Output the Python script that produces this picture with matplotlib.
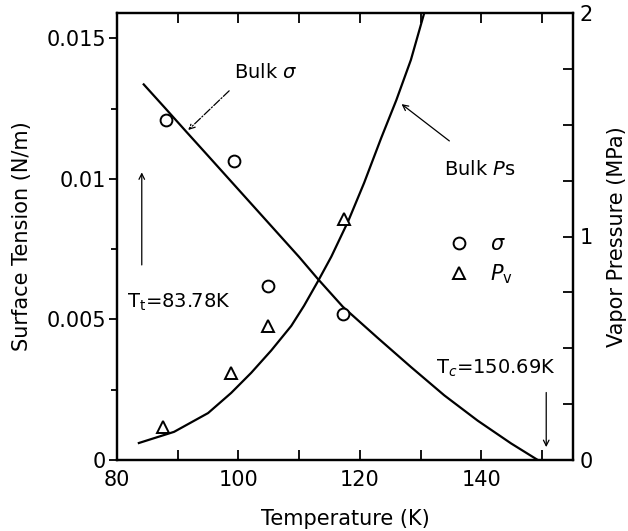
import matplotlib
matplotlib.use("Agg")
import matplotlib.pyplot as plt
from matplotlib.lines import Line2D
from matplotlib.ticker import MultipleLocator

plt.rcParams["font.family"] = "DejaVu Sans"
plt.rcParams["mathtext.fontset"] = "dejavusans"

# bulk surface tension curve (K, N/m)
bulk_sigma_T = [84.4, 88.0, 91.4, 95.0, 100.0, 105.0, 110.0, 113.0, 117.2, 122.9, 128.4, 133.9, 139.4, 144.9, 149.3]
bulk_sigma = [0.01336, 0.01250, 0.01168, 0.01082, 0.00962, 0.00842, 0.00722, 0.00646, 0.00545, 0.00435, 0.00331, 0.00230, 0.00140, 0.00059, 0.0]

# bulk vapour pressure curve (K, MPa)
bulk_ps_T = [83.6, 89.4, 95.0, 98.8, 102.1, 105.4, 108.7, 110.8, 113.1, 115.3, 118.1, 120.7, 123.5, 126.0, 128.4, 130.6]
bulk_ps = [0.076, 0.126, 0.21, 0.30, 0.39, 0.49, 0.60, 0.69, 0.80, 0.91, 1.07, 1.24, 1.44, 1.61, 1.79, 2.0]

# simulation points
sigma_T = [88.1, 99.3, 104.9, 117.2]
sigma_pts = [0.0121, 0.01064, 0.00618, 0.00518]
pv_T = [87.6, 98.8, 104.9, 117.4]
pv_pts = [0.148, 0.39, 0.60, 1.08]

T_triple = 83.78
T_crit = 150.69

left_ticks = [0, 0.005, 0.01, 0.015]
left_labels = ["0", "0.005", "0.01", "0.015"]
right_ticks = [0, 1, 2]
x_ticks = [80, 100, 120, 140]

fig = plt.figure(figsize=(6.28, 5.31), dpi=100)
ax = fig.add_axes([117 / 628, 1 - 460 / 531, 456 / 628, 447 / 531])
ax2 = ax.twinx()

ax.plot(bulk_sigma_T, bulk_sigma, color="black", lw=1.6)
ax.plot(sigma_T, sigma_pts, "o", mfc="white", mec="black", mew=1.4, ms=8.5, zorder=4)
ax2.plot(bulk_ps_T, bulk_ps, color="black", lw=1.6)
ax2.plot(pv_T, pv_pts, "^", mfc="white", mec="black", mew=1.4, ms=8.5, zorder=4)

ax.set_xlim(80, 155.1)
ax.set_ylim(0, 0.0159)
ax2.set_ylim(0, 2.0)

ax.set_xticks(x_ticks)
ax.xaxis.set_minor_locator(MultipleLocator(10))
ax.set_yticks(left_ticks)
ax.set_yticklabels(left_labels)
ax.yaxis.set_minor_locator(MultipleLocator(0.0025))
ax2.set_yticks(right_ticks)
ax2.yaxis.set_minor_locator(MultipleLocator(0.25))

ax.tick_params(axis="x", which="both", direction="in", top=True, labelsize=15, pad=7)
ax.tick_params(axis="x", which="major", length=7, width=1.3)
ax.tick_params(axis="x", which="minor", length=7, width=1.3)
ax.tick_params(axis="y", which="both", direction="out", labelsize=15, pad=2)
ax.tick_params(axis="y", which="major", length=6, width=1.3)
ax.tick_params(axis="y", which="minor", length=4, width=1.3)
ax2.tick_params(axis="y", which="both", direction="in", labelsize=15, pad=5)
ax2.tick_params(axis="y", which="major", length=7, width=1.3)
ax2.tick_params(axis="y", which="minor", length=7, width=1.3)

for a in (ax, ax2):
    for s in a.spines.values():
        s.set_linewidth(1.6)

ax.set_xlabel("Temperature (K)", fontsize=15, labelpad=14)
ax.set_ylabel("Surface Tension (N/m)", fontsize=15, labelpad=10)
ax2.set_ylabel("Vapor Pressure (MPa)", fontsize=15, labelpad=10)

# annotations
ax.text(99.3, 0.0138, r"Bulk $\sigma$", fontsize=14, ha="left", va="center")
ax.annotate("", xy=(91.4, 0.01167), xytext=(98.8, 0.0132),
            arrowprops=dict(arrowstyle="->", lw=0.9, linestyle="-.", color="black"))
ax2.text(133.9, 1.30, r"Bulk $P$s", fontsize=14, ha="left", va="center")
ax2.annotate("", xy=(126.5, 1.60), xytext=(135.1, 1.42),
             arrowprops=dict(arrowstyle="->", lw=0.9, color="black"))
ax.text(81.6, 0.00562, r"T$_\mathrm{t}$=83.78K", fontsize=14, ha="left", va="center")
ax.annotate("", xy=(T_triple + 0.3, 0.01033), xytext=(T_triple + 0.3, 0.00684),
            arrowprops=dict(arrowstyle="->", lw=0.9, color="black"))
ax.text(132.6, 0.00327, r"T$_c$=150.69K", fontsize=14, ha="left", va="center")
ax.annotate("", xy=(T_crit, 0.00036), xytext=(T_crit, 0.0025),
            arrowprops=dict(arrowstyle="->", lw=0.9, color="black"))

handles = [
    Line2D([], [], ls="none", marker="o", mfc="white", mec="black", mew=1.4, ms=8.5),
    Line2D([], [], ls="none", marker="^", mfc="white", mec="black", mew=1.4, ms=8.5),
]
ax.legend(handles, [r"$\sigma$", r"$P_\mathrm{v}$"], loc="upper left",
          bbox_to_anchor=(0.686, 0.547), frameon=False, fontsize=15,
          handlelength=1.0, handletextpad=1.0, labelspacing=0.4)

fig.savefig("out.png", dpi=100)
